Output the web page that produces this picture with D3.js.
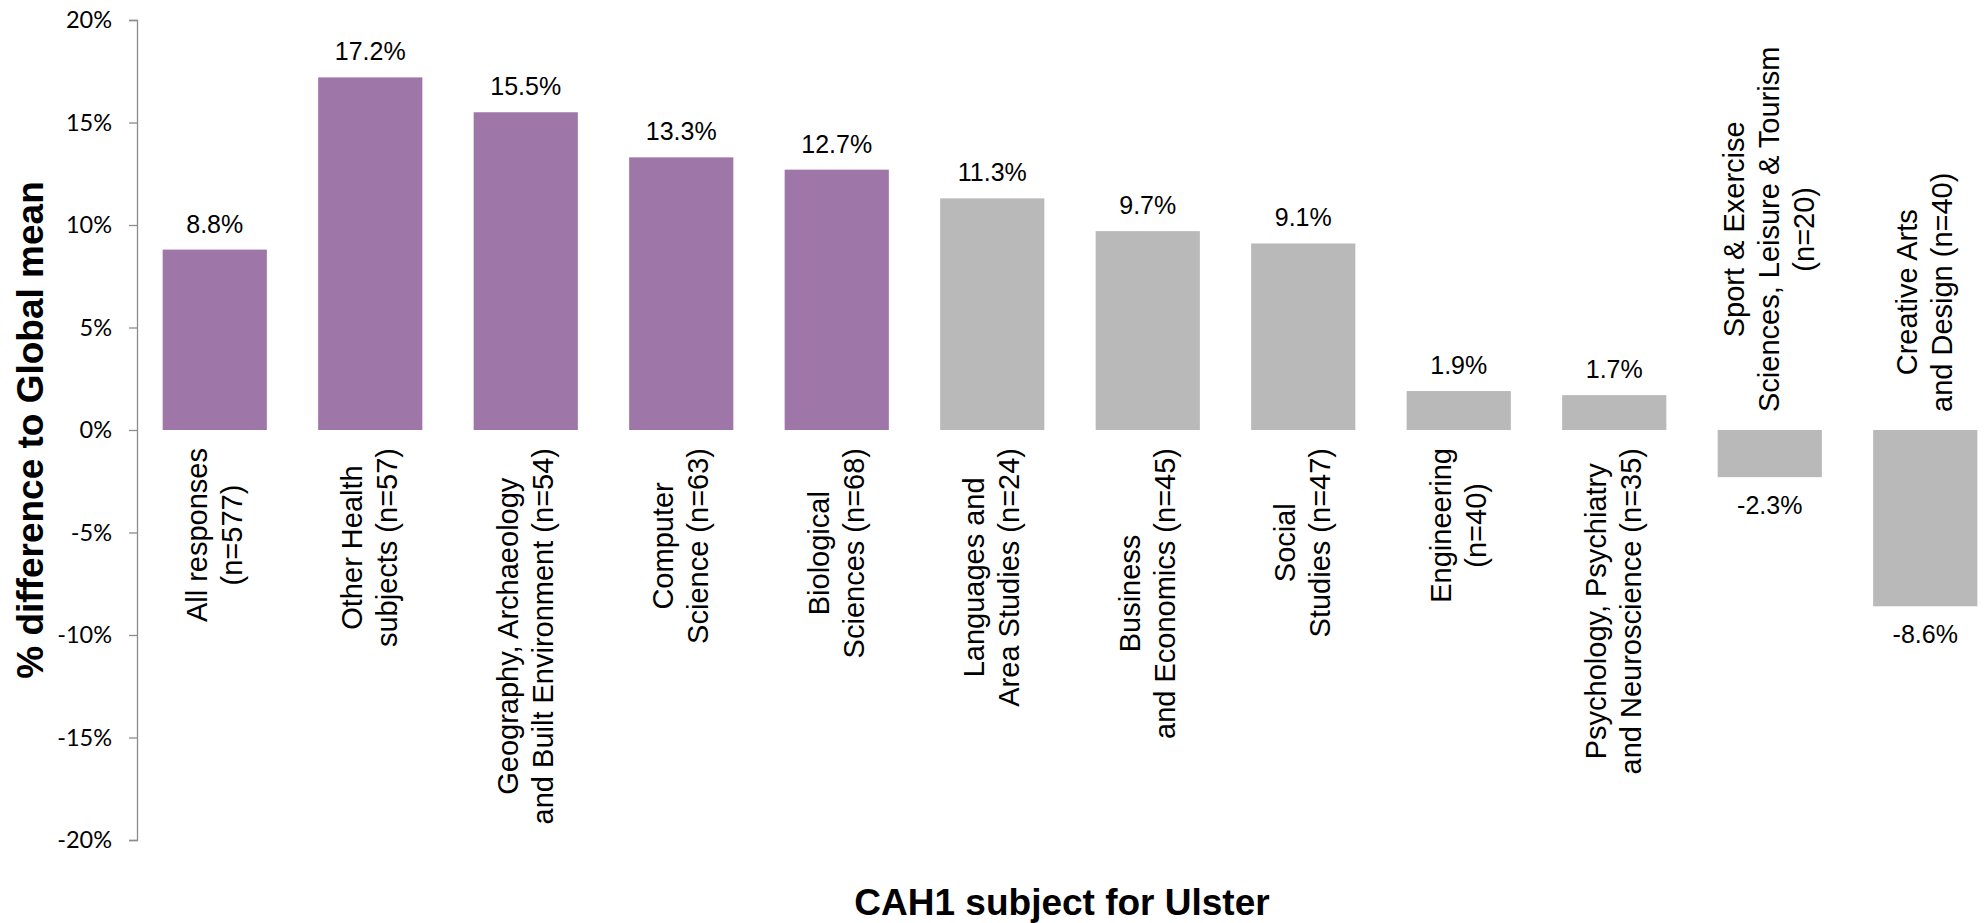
<!DOCTYPE html>
<html>
<head>
<meta charset="utf-8">
<script src="https://cdn.jsdelivr.net/npm/d3@7"></script>
<style>
  html, body { margin: 0; padding: 0; background: #fff; overflow: hidden; }
  svg { display: block; }
</style>
</head>
<body>
<svg id="chart" width="1985" height="923"></svg>
<script>
// ---- data ----
const categories = [
  ["All responses", "(n=577)"],
  ["Other Health", "subjects (n=57)"],
  ["Geography, Archaeology", "and Built Environment (n=54)"],
  ["Computer", "Science (n=63)"],
  ["Biological", "Sciences (n=68)"],
  ["Languages and", "Area Studies (n=24)"],
  ["Business", "and Economics (n=45)"],
  ["Social", "Studies (n=47)"],
  ["Engineering", "(n=40)"],
  ["Psychology, Psychiatry", "and Neuroscience (n=35)"],
  ["Sport & Exercise", "Sciences, Leisure & Tourism", "(n=20)"],
  ["Creative Arts", "and Design (n=40)"]
];
const values = [8.8, 17.2, 15.5, 13.3, 12.7, 11.3, 9.7, 9.1, 1.9, 1.7, -2.3, -8.6];
const highlighted = [true, true, true, true, true, false, false, false, false, false, false, false];
const yTicks = [-20, -15, -10, -5, 0, 5, 10, 15, 20];
const yTitle = "% difference to Global mean";
const xTitle = "CAH1 subject for Ulster";

// ---- chart ----
const svg = d3.select("#chart");
const idx = d3.range(values.length);

const x = d3.scaleBand()
  .domain(idx)
  .range([137, 2003])
  .paddingInner(0.33)
  .paddingOuter(0.165);

const y = d3.scaleLinear().domain([-20, 20]).range([840, 20]);

const purple = "#9E76A8";
const grey = "#B9B9B9";

// y axis
const yAxis = d3.axisLeft(y)
  .tickValues(yTicks)
  .tickSize(8)
  .tickPadding(17)
  .tickFormat(d => d + "%");

const gy = svg.append("g").attr("transform", "translate(137,0)").call(yAxis);
gy.select(".domain").attr("stroke", "#8c8c8c").attr("stroke-width", 1.3);
gy.selectAll(".tick line").attr("stroke", "#8c8c8c").attr("stroke-width", 1.3);
gy.selectAll(".tick text")
  .attr("font-family", "Lato, 'Liberation Sans', sans-serif")
  .attr("font-size", 23.5)
  .attr("fill", "#000");

// bars
svg.append("g").selectAll("rect")
  .data(idx)
  .join("rect")
  .attr("x", i => x(i))
  .attr("width", x.bandwidth())
  .attr("y", i => y(Math.max(0, values[i])))
  .attr("height", i => Math.abs(y(values[i]) - y(0)))
  .attr("fill", i => highlighted[i] ? purple : grey);

// data labels
svg.append("g").selectAll("text")
  .data(idx)
  .join("text")
  .attr("x", i => x(i) + x.bandwidth() / 2)
  .attr("y", i => values[i] >= 0 ? y(values[i]) - 17 : y(values[i]) + 37)
  .attr("text-anchor", "middle")
  .attr("font-family", "'Liberation Sans', Arial, sans-serif")
  .attr("font-size", 25)
  .attr("fill", "#000")
  .text(i => values[i].toFixed(1) + "%");

// category labels (rotated, multi-line, centered lines)
const lineGap = 35;
const catG = svg.append("g");
idx.forEach(i => {
  const lines = categories[i];
  const n = lines.length;
  const t = catG.append("text")
    .attr("font-family", "'Liberation Sans', Arial, sans-serif")
    .attr("font-size", 29)
    .attr("fill", "#000")
    .attr("text-anchor", "middle");
  lines.forEach((ln, k) => {
    t.append("tspan")
      .attr("x", 0)
      .attr("y", (k - (n - 1) / 2) * lineGap + 9.5)
      .text(ln);
  });
  let maxLen = 0;
  t.selectAll("tspan").each(function () {
    maxLen = Math.max(maxLen, this.getComputedTextLength());
  });
  const cx = x(i) + x.bandwidth() / 2;
  const cy = values[i] >= 0 ? y(0) + 18 + maxLen / 2 : y(0) - 18 - maxLen / 2;
  t.attr("transform", `translate(${cx},${cy}) rotate(-90)`);
});

// axis titles
svg.append("text")
  .attr("transform", `translate(43,${y(0)}) rotate(-90)`)
  .attr("text-anchor", "middle")
  .attr("font-family", "'Liberation Sans', Arial, sans-serif")
  .attr("font-weight", "bold")
  .attr("font-size", 37)
  .attr("fill", "#000")
  .text(yTitle);

svg.append("text")
  .attr("x", 1062)
  .attr("y", 915)
  .attr("text-anchor", "middle")
  .attr("font-family", "'Liberation Sans', Arial, sans-serif")
  .attr("font-weight", "bold")
  .attr("font-size", 37)
  .attr("fill", "#000")
  .text(xTitle);
</script>
</body>
</html>
